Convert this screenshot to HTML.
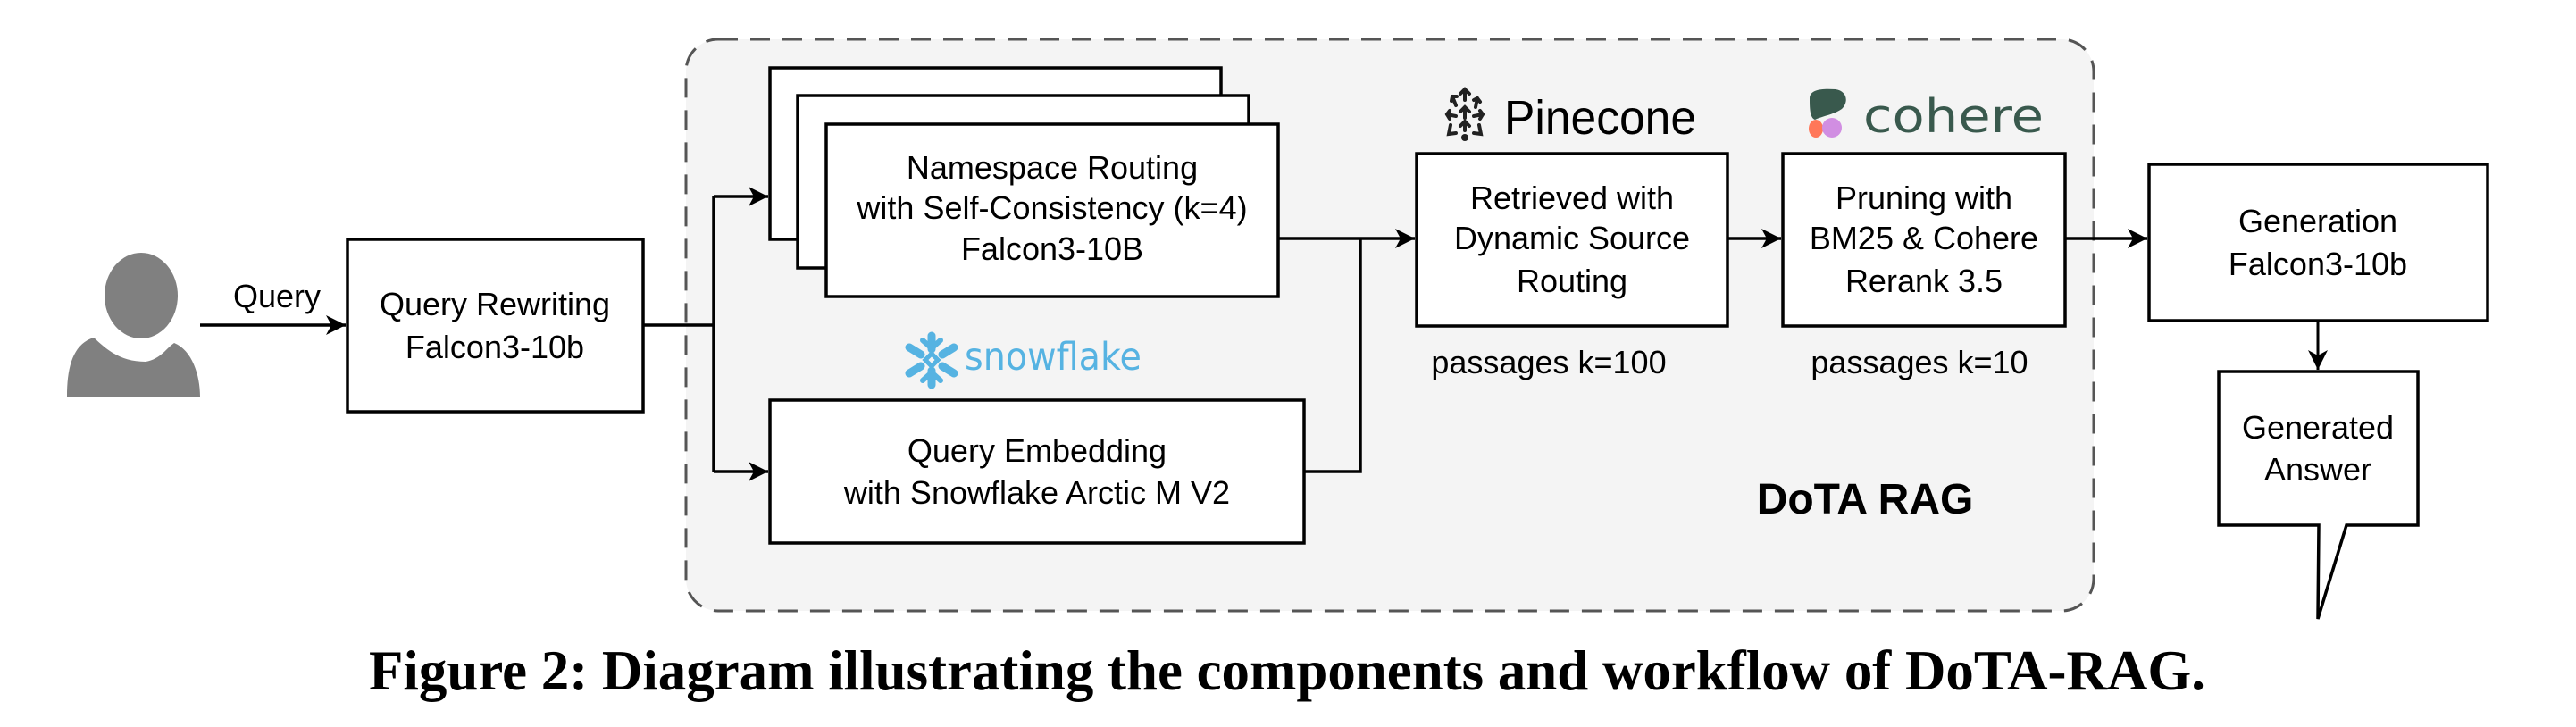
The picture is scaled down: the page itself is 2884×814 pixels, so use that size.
<!DOCTYPE html>
<html><head><meta charset="utf-8"><style>
html,body{margin:0;padding:0;background:#fff}
svg{display:block}
.t{font-family:"Liberation Sans",Arial,sans-serif;font-size:36px;fill:#000;text-anchor:middle}
</style></head><body>
<svg width="2884" height="814" viewBox="0 0 2884 814" xmlns="http://www.w3.org/2000/svg">
<defs>
<marker id="a" markerWidth="24" markerHeight="24" refX="22" refY="12" orient="auto" markerUnits="userSpaceOnUse">
<path d="M0,1 L22,12 L0,23 L6,12 Z" fill="#000"/>
</marker>
</defs>
<rect x="768" y="44" width="1576" height="640" rx="36" fill="#f4f4f4" stroke="#555" stroke-width="3" stroke-dasharray="22,14"/>
<ellipse cx="158" cy="331" rx="41" ry="48" fill="#808080"/>
<path d="M75,444 C75,410 82,385 105,378 C120,392 135,405 163,405 C180,402 186,390 195,384 C215,392 224,420 224,444 Z" fill="#808080"/>
<line x1="224" y1="364" x2="387" y2="364" stroke="#000" stroke-width="3.5" marker-end="url(#a)"/>
<text class="t" x="310" y="344">Query</text>
<rect x="389" y="268" width="331" height="193" fill="#fff" stroke="#000" stroke-width="3.5"/>
<text class="t" x="554" y="353">Query Rewriting</text>
<text class="t" x="554" y="401">Falcon3-10b</text>
<path d="M720,364 H799 M799,220 V528" stroke="#000" stroke-width="3.5" fill="none"/>
<path d="M799,220 H860" stroke="#000" stroke-width="3.5" marker-end="url(#a)"/>
<path d="M799,528 H860" stroke="#000" stroke-width="3.5" marker-end="url(#a)"/>
<rect x="862" y="76" width="505" height="192" fill="#fff" stroke="#000" stroke-width="3.5"/>
<rect x="893" y="107" width="505" height="193" fill="#fff" stroke="#000" stroke-width="3.5"/>
<rect x="925" y="139" width="506" height="193" fill="#fff" stroke="#000" stroke-width="3.5"/>
<text class="t" x="1178" y="200">Namespace Routing</text>
<text class="t" x="1178" y="245">with Self-Consistency (k=4)</text>
<text class="t" x="1178" y="291">Falcon3-10B</text>
<g stroke="#56B3E2" stroke-width="9" stroke-linecap="round" fill="none">
<line x1="1043" y1="376" x2="1043" y2="391"/><line x1="1043" y1="415" x2="1043" y2="431"/>
<line x1="1018" y1="389" x2="1031" y2="397"/><line x1="1055" y1="410" x2="1068" y2="418"/>
<line x1="1018" y1="418" x2="1031" y2="410"/><line x1="1055" y1="397" x2="1068" y2="389"/>
<path d="M1033,381 L1043,390 L1053,381" stroke-width="6"/>
<path d="M1033,426 L1043,417 L1053,426" stroke-width="6"/>
<rect x="1038" y="398" width="10" height="10" transform="rotate(45 1043 403)" stroke-width="5"/>
</g>
<text x="1080" y="414" font-family="'DejaVu Sans','Liberation Sans',sans-serif" font-size="43" fill="#56B3E2" textLength="198" lengthAdjust="spacingAndGlyphs">snowflake</text>
<rect x="862" y="448" width="598" height="160" fill="#fff" stroke="#000" stroke-width="3.5"/>
<text class="t" x="1161" y="517">Query Embedding</text>
<text class="t" x="1161" y="564">with Snowflake Arctic M V2</text>
<path d="M1460,528 H1523 V267" stroke="#000" stroke-width="3.5" fill="none"/>
<path d="M1431,267 H1584" stroke="#000" stroke-width="3.5" marker-end="url(#a)"/>
<g stroke="#222" stroke-width="4" fill="none" stroke-linecap="round">
<path d="M1640,100 V112 M1635,105 L1640,100 L1645,105"/>
<path d="M1626,108 L1630,118 M1625,113 L1626,108 L1631,108"/>
<path d="M1654,110 L1652,120 M1650,112 L1654,110 L1657,114"/>
<path d="M1640,120 V132 M1635,125 L1640,120 L1645,125"/>
<path d="M1620,128 L1630,130 M1623,124 L1620,128 L1623,133"/>
<path d="M1660,128 L1650,130 M1657,124 L1660,128 L1657,133"/>
<path d="M1640,136 V146 M1635,141 L1640,136 L1645,141"/>
<path d="M1624,140 L1622,150 L1630,149"/>
<path d="M1656,140 L1658,150 L1650,149"/>
</g>
<circle cx="1640" cy="154" r="4" fill="#222"/>
<text x="1684" y="150" font-family="'Liberation Sans',sans-serif" font-size="54" fill="#000" textLength="215" lengthAdjust="spacingAndGlyphs">Pinecone</text>
<rect x="1586" y="172" width="348" height="193" fill="#fff" stroke="#000" stroke-width="3.5"/>
<text class="t" x="1760" y="234">Retrieved with</text>
<text class="t" x="1760" y="279">Dynamic Source</text>
<text class="t" x="1760" y="327">Routing</text>
<text class="t" x="1734" y="418">passages k=100</text>
<path d="M1934,267 H1994" stroke="#000" stroke-width="3.5" marker-end="url(#a)"/>
<path d="M2026,110 C2026,100 2040,99 2055,100 C2068,102 2070,114 2062,122 C2054,128 2040,130 2032,134 C2026,132 2026,120 2026,110 Z" fill="#39594D"/>
<ellipse cx="2033" cy="144" rx="8" ry="10" fill="#FF7759"/>
<ellipse cx="2051" cy="143" rx="11" ry="11" fill="#D18EE2"/>
<text x="2086" y="148" font-family="'DejaVu Sans','Liberation Sans',sans-serif" font-size="52" fill="#39594D" textLength="202" lengthAdjust="spacingAndGlyphs">cohere</text>
<rect x="1996" y="172" width="316" height="193" fill="#fff" stroke="#000" stroke-width="3.5"/>
<text class="t" x="2154" y="234">Pruning with</text>
<text class="t" x="2154" y="279">BM25 &amp; Cohere</text>
<text class="t" x="2154" y="327">Rerank 3.5</text>
<text class="t" x="2149" y="418">passages k=10</text>
<path d="M2312,267 H2404" stroke="#000" stroke-width="3.5" marker-end="url(#a)"/>
<text x="2088" y="575" font-family="'Liberation Sans',sans-serif" font-size="48" font-weight="bold" text-anchor="middle" fill="#000">DoTA RAG</text>
<rect x="2406" y="184" width="379" height="175" fill="#fff" stroke="#000" stroke-width="3.5"/>
<text class="t" x="2595" y="260">Generation</text>
<text class="t" x="2595" y="308">Falcon3-10b</text>
<path d="M2595,359 V414" stroke="#000" stroke-width="3" marker-end="url(#a)"/>
<path d="M2484,416 H2707 V588 H2627 L2595,693 L2596,588 H2484 Z" fill="#fff" stroke="#000" stroke-width="3.5"/>
<text class="t" x="2595" y="491">Generated</text>
<text class="t" x="2595" y="538">Answer</text>
<text x="413" y="772" font-family="'Liberation Serif',serif" font-size="64" font-weight="bold" fill="#000" textLength="2056" lengthAdjust="spacingAndGlyphs">Figure 2: Diagram illustrating the components and workflow of DoTA-RAG.</text>
</svg>
</body></html>
